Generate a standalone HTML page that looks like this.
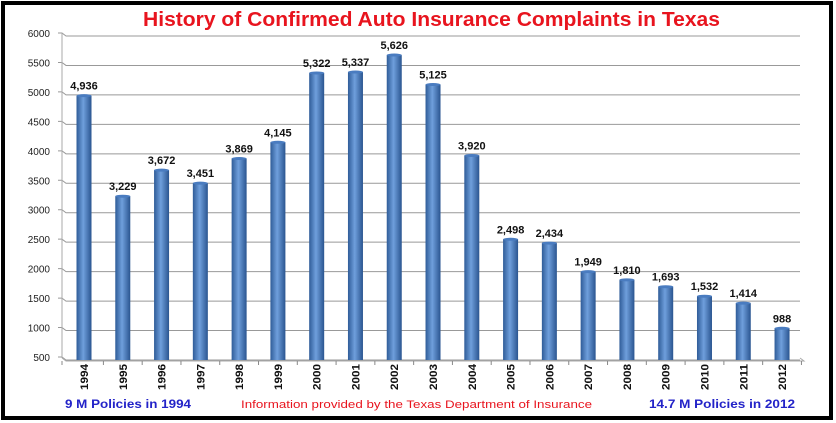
<!DOCTYPE html>
<html><head><meta charset="utf-8"><style>
body{margin:0;background:#fff;}
svg{display:block;font-family:"Liberation Sans",sans-serif;}
</style></head><body>
<svg width="836" height="423" viewBox="0 0 836 423">
<defs>
<linearGradient id="bg" x1="0" x2="1" y1="0" y2="0">
<stop offset="0" stop-color="#2f5c98"/><stop offset="0.45" stop-color="#6f9fdc"/><stop offset="1" stop-color="#2a5590"/>
</linearGradient>
</defs>
<rect x="0" y="0" width="836" height="423" fill="#fff"/>
<rect x="3" y="3" width="828" height="415" fill="none" stroke="#000" stroke-width="4"/>
<text x="143" y="26" font-size="20" font-weight="bold" fill="#e8141e" textLength="577" lengthAdjust="spacingAndGlyphs">History of Confirmed Auto Insurance Complaints in Texas</text>
<g id="grid" stroke="#999" stroke-width="1" fill="none"></g>
<g id="bars"></g>
<g id="labels" font-size="11" font-weight="bold" fill="#111" text-anchor="middle"></g>
<text x="65" y="408" font-size="12" font-weight="bold" fill="#2323c8" textLength="126" lengthAdjust="spacingAndGlyphs">9 M Policies in 1994</text>
<text x="241" y="408" font-size="11" fill="#e8141e" textLength="351" lengthAdjust="spacingAndGlyphs">Information provided by the Texas Department of Insurance</text>
<text x="649" y="408" font-size="12" font-weight="bold" fill="#2323c8" textLength="146" lengthAdjust="spacingAndGlyphs">14.7 M Policies in 2012</text>
</svg>
<script>
const ns="http://www.w3.org/2000/svg";
const svg=document.querySelector('svg');
function el(t,a,p,txt){const e=document.createElementNS(ns,t);for(const k in a)e.setAttribute(k,a[k]);if(txt!=null)e.textContent=txt;(p||svg).appendChild(e);return e;}
const y=v=>357-(v-500)/5500*324;
const g=document.getElementById('grid');
for(let v=500;v<=6000;v+=500){
 const yy=y(v);
 el('path',{d:`M58 ${yy} L62 ${yy} L66 ${yy+3} L800 ${yy+3}`},g);
 el('text',{x:50,y:yy+4,'font-size':10,'text-anchor':'end',fill:'#222',stroke:'none'},svg,String(v));
}
el('path',{d:'M62 33 L62 358 M62 358 L66 361 L804 361 L800 358'},g).setAttribute('stroke','#aaa');
const vals=[4936,3229,3672,3451,3869,4145,5322,5337,5626,5125,3920,2498,2434,1949,1810,1693,1532,1414,988];
const b=document.getElementById('bars'),L=document.getElementById('labels');
vals.forEach((v,i)=>{
 const cx=84+i*38.78, top=y(v);
 el('rect',{x:cx-7.5,y:top,width:15,height:360-top,fill:'url(#bg)'},b);
 el('ellipse',{cx:cx,cy:top,rx:7.5,ry:1.5,fill:'#4a7cc0'},b);
 el('text',{x:cx,y:top-6},L,v.toLocaleString('en-US'));
 el('line',{x1:cx+19.4,y1:361,x2:cx+19.4,y2:365,stroke:'#888'},svg);
 el('text',{x:0,y:0,'font-size':11,'font-weight':'bold',fill:'#111','text-anchor':'middle',transform:`translate(${cx+4},377) rotate(-90)`,textLength:26,lengthAdjust:'spacingAndGlyphs'},svg,String(1994+i));
});
el('line',{x1:62,y1:361,x2:62,y2:365,stroke:'#888'},svg);
</script>
</body></html>
